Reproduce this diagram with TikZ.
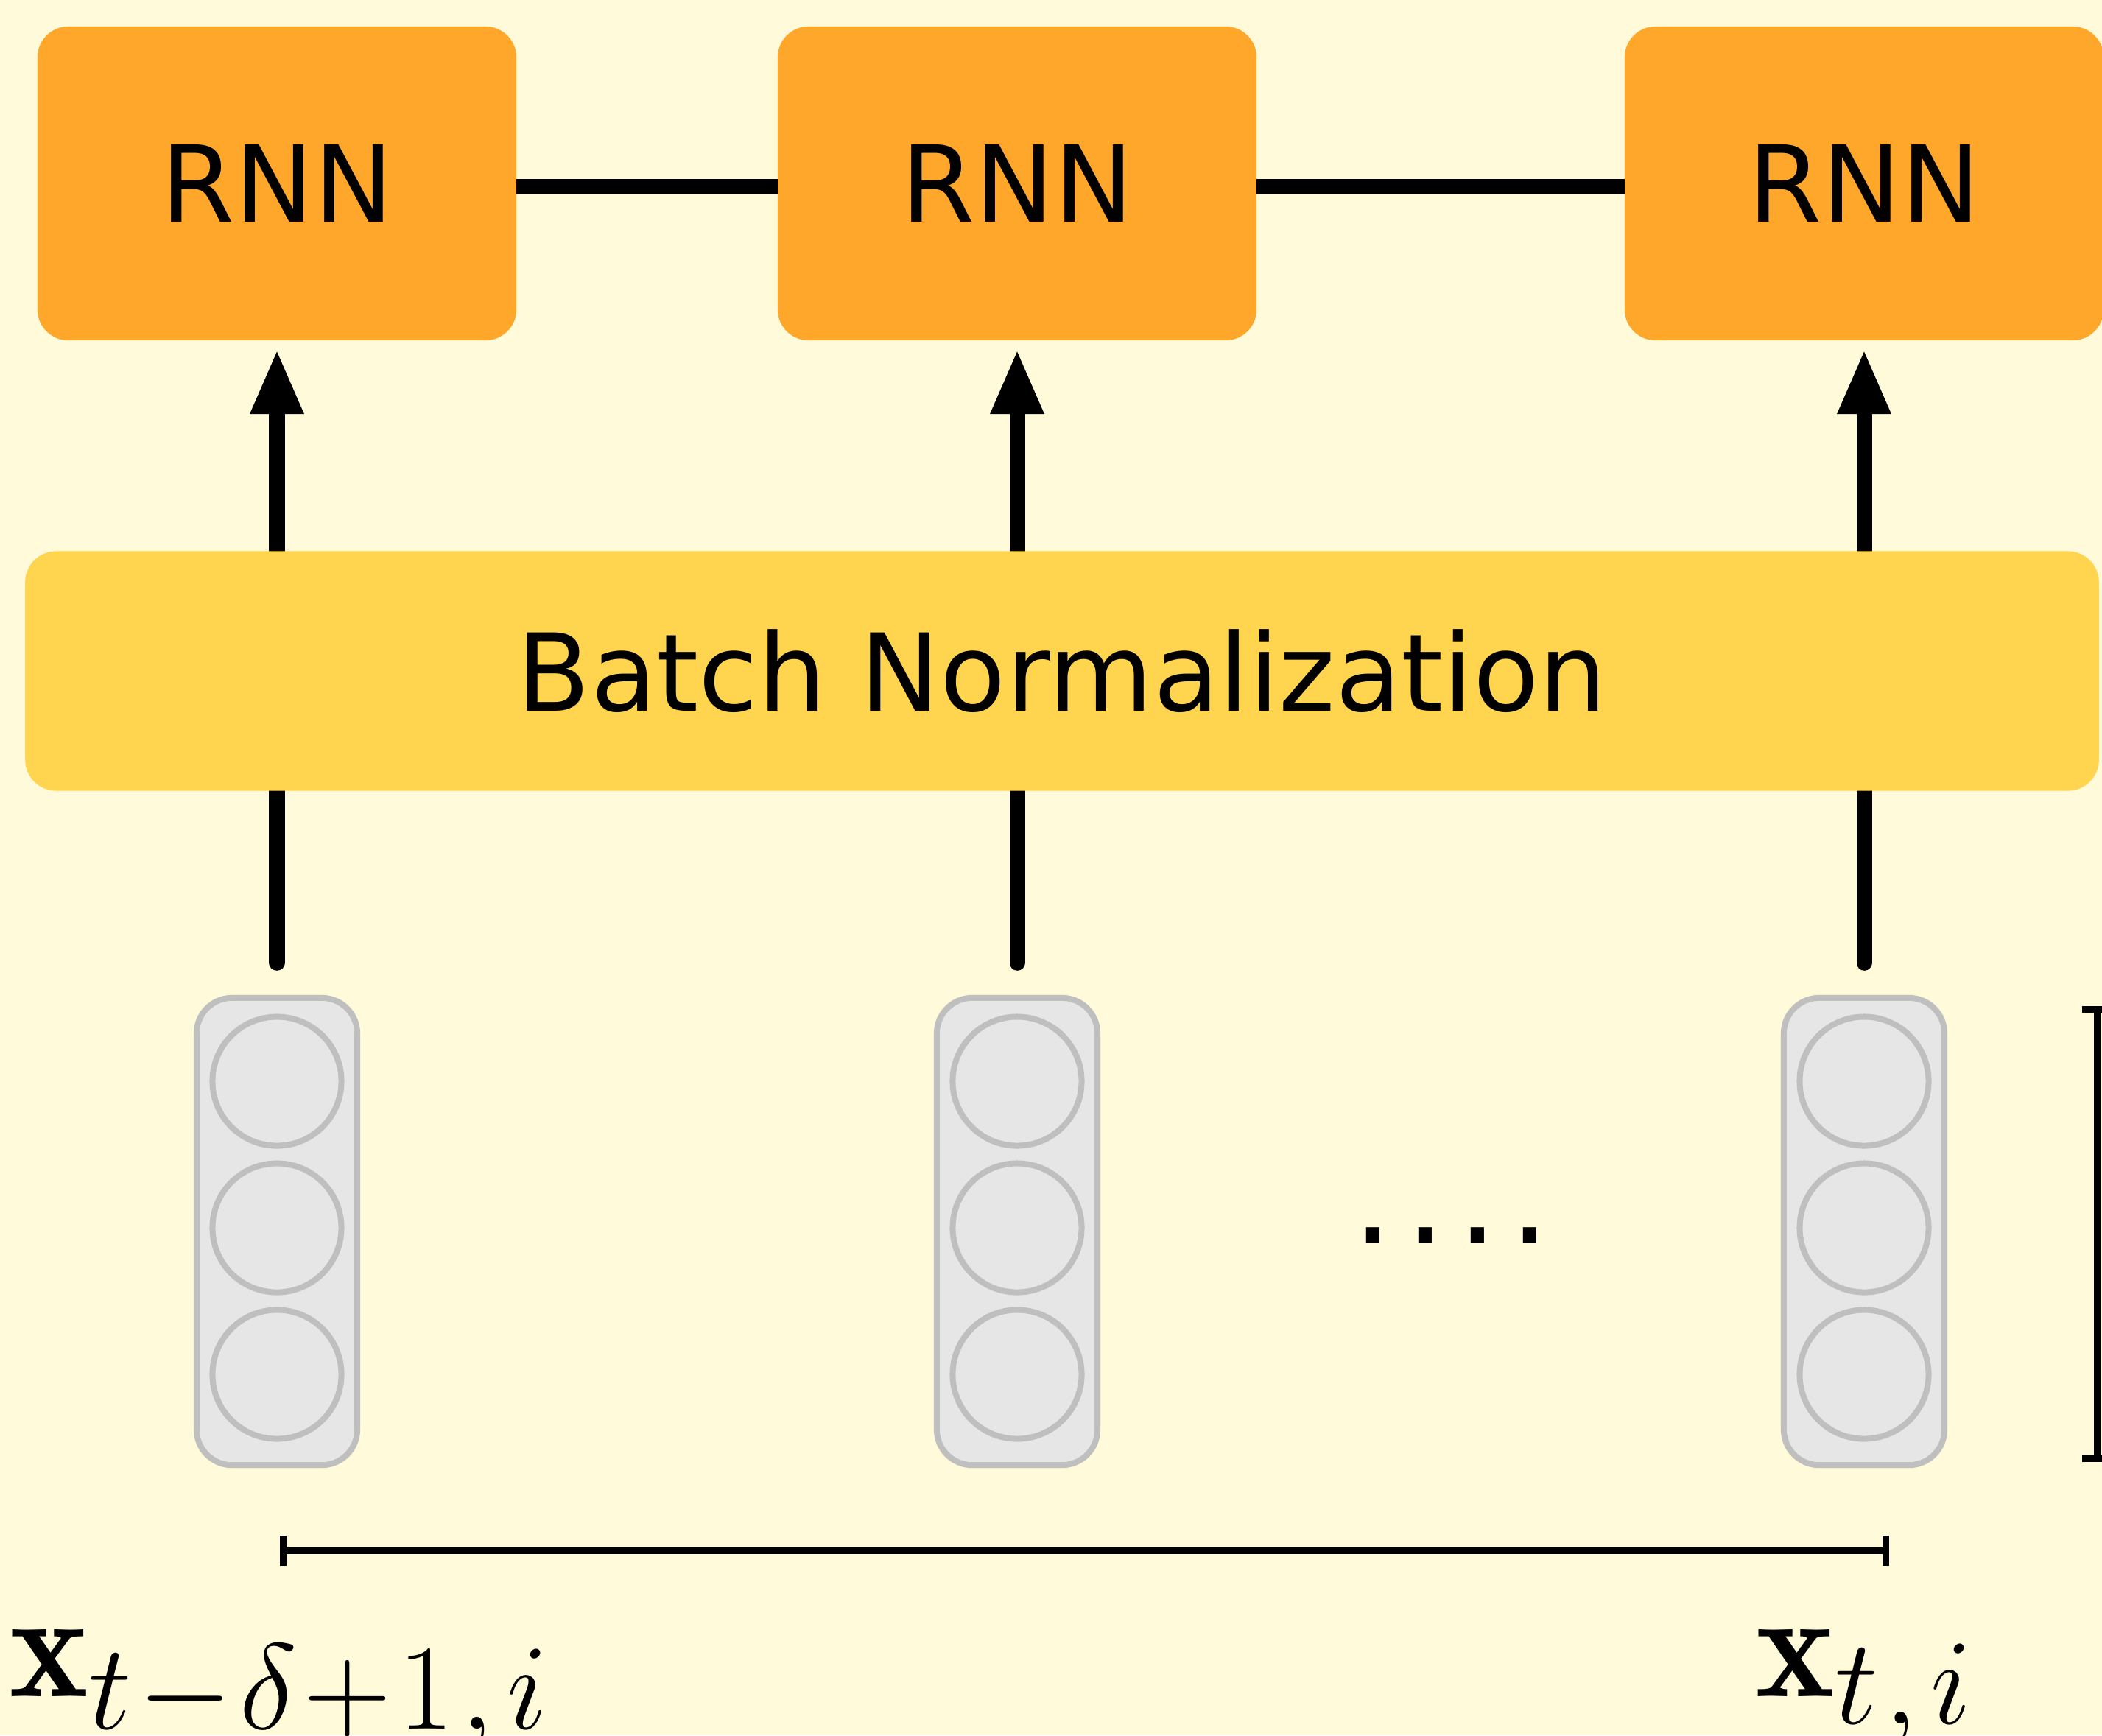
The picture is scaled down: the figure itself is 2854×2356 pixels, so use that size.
\RequirePackage{fix-cm}
\documentclass[tikz,border=0pt]{standalone}
\usepackage{fontspec}
\newfontfamily\dejavu{DejaVu Sans}
\usetikzlibrary{arrows.meta}
\DeclareMathSizes{58.3}{58.3}{47}{33}
\definecolor{fondo}{HTML}{FFFAD9}
\definecolor{naranja}{HTML}{FFA72A}
\definecolor{amarillo}{HTML}{FFD54F}
\definecolor{grisrelleno}{HTML}{E6E6E6}
\definecolor{grisborde}{HTML}{BFBFBF}

\begin{document}
\begin{tikzpicture}[x=0.01cm,y=-0.01cm,
  every node/.style={inner sep=0pt,outer sep=0pt},
  rnn/.style={rectangle,rounded corners=0.42cm,fill=naranja,minimum width=6.5cm,minimum height=4.26cm,font=\dejavu\fontsize{41}{50}\selectfont},
  bnorm/.style={rectangle,rounded corners=0.42cm,fill=amarillo,minimum width=28.14cm,minimum height=3.25cm,font=\dejavu\fontsize{41.5}{50}\selectfont},
  vec/.style={rectangle,rounded corners=0.48cm,fill=grisrelleno,draw=grisborde,line width=0.08cm,minimum width=2.18cm,minimum height=6.34cm},
  neurona/.style={circle,fill=grisrelleno,draw=grisborde,line width=0.08cm,minimum size=1.75cm},
  flecha/.style={line width=0.21cm,line cap=round,-{Triangle[length=0.88cm,width=0.67cm]},shorten <=0.475cm,shorten >=0.12cm},
  enlace/.style={line width=0.21cm},
  medida/.style={line width=0.09cm,{Bar[width=0.41cm]}-{Bar[width=0.41cm]}},
  etiqueta/.style={anchor=base west,font=\fontsize{58.3}{60}\selectfont}]
  \useasboundingbox (0,0) rectangle (2854,2356);
  \fill[fondo] (0,0) rectangle (2854,2356);

  % Celdas recurrentes
  \node[rnn] (r1) at (376,249) {RNN};
  \node[rnn] (r2) at (1381,249) {RNN};
  \node[rnn] (r3) at (2531,249) {RNN};

  % Enlaces entre celdas
  \foreach \from/\to in {r1/r2, r2/r3}
    \draw[enlace] ([yshift=-0.045cm]\from.east) -- ([yshift=-0.045cm]\to.west);

  % Vectores de entrada
  \foreach \i/\x in {1/376, 2/1381, 3/2531} {
    \node[vec] (v\i) at (\x,1672) {};
    \foreach \j/\y in {1/1468, 2/1667, 3/1866}
      \node[neurona] (n\i\j) at (\x,\y) {};
  }

  % Flechas (por debajo de la normalizacion)
  \foreach \i in {1,2,3}
    \draw[flecha] (v\i) -- (r\i);

  \node[bnorm] (bn) at (1442,911) {Batch Normalization};

  \node[font=\dejavu\fontsize{50}{50}\selectfont,anchor=base] (puntos) at (1971,1688) {.\hspace{0.15cm}.\hspace{0.15cm}.\hspace{0.15cm}.};

  % Cotas
  \coordinate (h0) at (380,2105.5);
  \coordinate (h1) at (2565,2105.5);
  \draw[medida] (h0) -- (h1);
  \coordinate (w0) at (2847,1366);
  \coordinate (w1) at (2847,1985);
  \draw[medida] (w0) -- (w1);

  % Etiquetas
  \node[etiqueta] (xini) at (12,2303) {$\mathbf{x}_{t\mskip1mu-\mskip1mu\delta\mskip1mu+\mskip1mu1\mskip1mu,\mskip2mu i}$};
  \node[etiqueta] (xfin) at (2383,2303) {$\mathbf{x}_{t\mskip1mu,\mskip2mu i}$};
\end{tikzpicture}
\end{document}
